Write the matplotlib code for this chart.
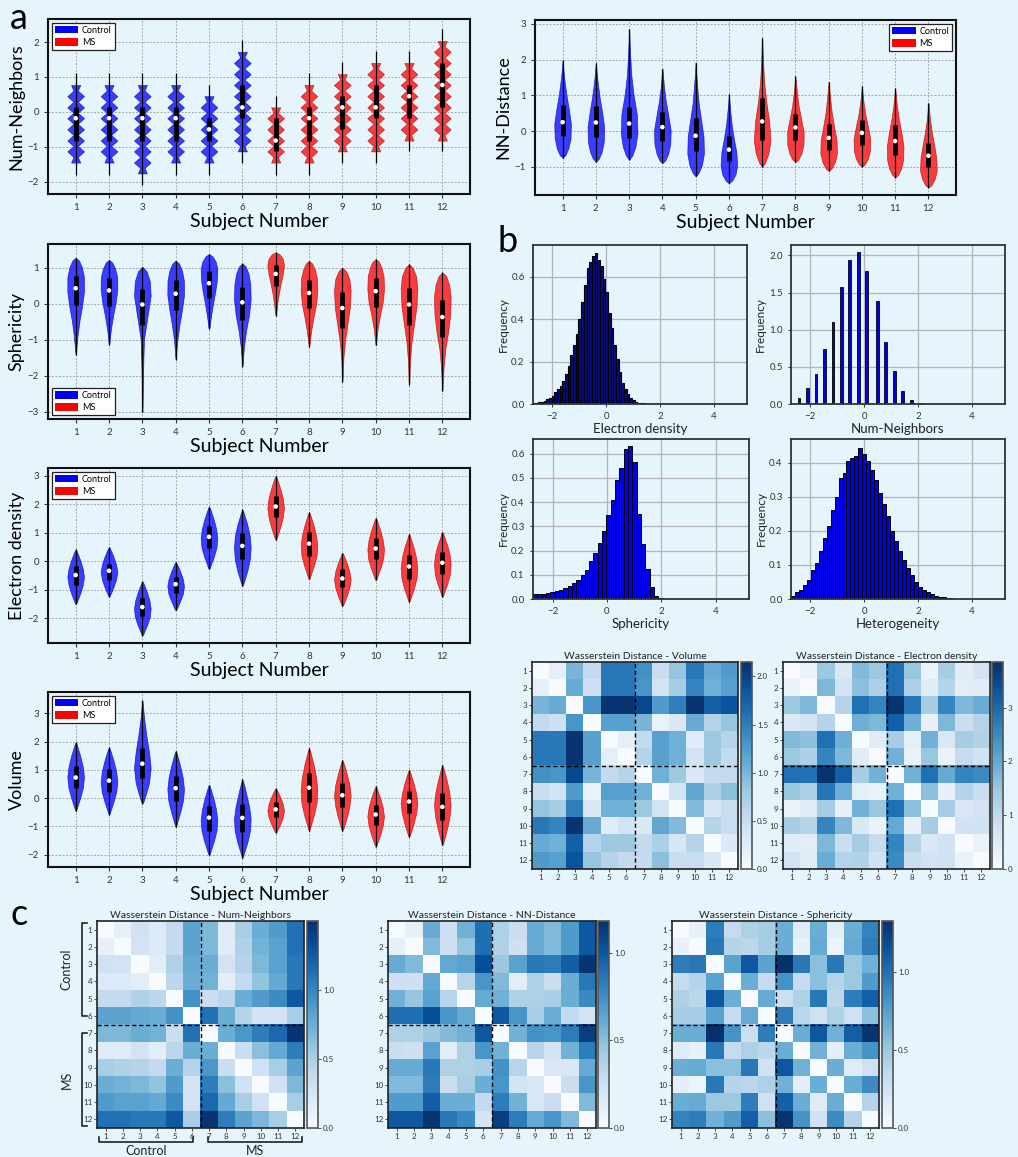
import numpy as np
import matplotlib
matplotlib.use('Agg')
import matplotlib.pyplot as plt
from matplotlib.patches import Patch
from matplotlib.lines import Line2D

plt.rcParams['font.family'] = ['Lato', 'DejaVu Sans']
BG = '#e6f4fb'
W, H = 1018, 1157

subjects = np.arange(1, 13)
is_ms = [False] * 6 + [True] * 6

# ---------------- violin data ----------------
# Num-Neighbors (discrete values)
nn_levels = [-1.76, -1.45, -1.13, -0.82, -0.50, -0.18, 0.13, 0.45, 0.77, 1.08, 1.40, 1.72, 2.03]
nn_min = [-1.45, -1.45, -1.76, -1.45, -1.45, -1.13, -1.45, -1.45, -1.13, -1.13, -0.82, -0.82]
nn_max = [0.77, 0.77, 0.77, 0.77, 0.45, 1.72, 0.13, 0.77, 1.08, 1.40, 1.40, 2.03]
nn_med = [-0.18, -0.18, -0.18, -0.18, -0.50, 0.13, -0.82, -0.18, 0.13, 0.13, 0.45, 0.77]
nn_q1 = [-0.82, -0.82, -0.82, -0.82, -0.82, -0.18, -1.13, -0.82, -0.50, -0.18, -0.18, 0.13]
nn_q3 = [0.13, 0.13, 0.13, 0.13, -0.18, 0.77, -0.18, 0.13, 0.45, 0.77, 0.77, 1.40]
nn_wlo = [-1.8, -1.8, -2.1, -1.8, -1.8, -1.47, -1.8, -1.8, -1.47, -1.47, -1.13, -1.13]
nn_whi = [1.1, 1.1, 1.1, 1.1, 0.77, 2.07, 0.45, 1.1, 1.42, 1.75, 1.75, 2.38]

# profile sample fractions along each violin (min -> max)
F = np.array([0, .03, .1, .2, .35, .5, .65, .8, .9, .97, 1.0])

# NN-Distance
nd_min = [-0.75, -0.86, -0.80, -0.90, -1.27, -1.46, -1.00, -0.87, -1.12, -1.00, -1.30, -1.58]
nd_max = [1.98, 1.92, 2.85, 1.75, 1.92, 1.03, 2.62, 1.53, 1.38, 1.25, 1.20, 0.78]
nd_med = [0.25, 0.24, 0.21, 0.11, -0.13, -0.52, 0.27, 0.10, -0.19, -0.05, -0.28, -0.69]
nd_q1 = [-0.13, -0.17, -0.18, -0.27, -0.57, -0.85, -0.25, -0.26, -0.53, -0.40, -0.67, -1.00]
nd_q3 = [0.72, 0.70, 0.68, 0.53, 0.36, -0.14, 0.92, 0.49, 0.20, 0.32, 0.17, -0.32]
nd_prof = [
    [0, .35, .7, .95, 1, .75, .45, .22, .1, .04, 0],
    [0, .35, .7, .95, 1, .75, .45, .22, .1, .04, 0],
    [0, .35, .72, .95, .88, .5, .25, .12, .06, .03, 0],
    [0, .35, .7, .95, 1, .72, .42, .2, .1, .04, 0],
    [0, .35, .75, 1, .95, .65, .35, .18, .08, .03, 0],
    [0, .4, .8, 1, .9, .6, .35, .18, .08, .03, 0],
    [0, .35, .75, 1, .85, .5, .25, .12, .06, .03, 0],
    [0, .35, .72, .97, 1, .7, .4, .2, .1, .04, 0],
    [0, .35, .75, 1, .95, .65, .38, .2, .1, .04, 0],
    [0, .35, .72, .97, 1, .72, .42, .2, .1, .04, 0],
    [0, .35, .72, .97, 1, .75, .45, .22, .1, .04, 0],
    [0, .38, .75, 1, .95, .7, .42, .2, .1, .04, 0],
]

# Sphericity
sp_min = [-1.41, -1.15, -3.00, -1.55, -0.70, -1.75, -0.33, -1.20, -2.17, -1.15, -2.25, -2.42]
sp_max = [1.28, 1.22, 1.03, 1.20, 1.38, 1.12, 1.43, 1.19, 1.00, 1.24, 1.10, 0.87]
sp_med = [0.43, 0.37, -0.02, 0.28, 0.57, 0.04, 0.83, 0.30, -0.12, 0.35, -0.02, -0.37]
sp_q1 = [-0.03, -0.05, -0.58, -0.17, 0.17, -0.46, 0.50, -0.13, -0.68, -0.08, -0.60, -0.93]
sp_q3 = [0.78, 0.72, 0.41, 0.66, 0.91, 0.47, 1.08, 0.66, 0.33, 0.72, 0.44, 0.10]
sp_prof = [
    [0, .06, .12, .23, .46, .77, 1, 1, .75, .4, 0],
    [0, .06, .12, .25, .5, .8, 1, .98, .72, .38, 0],
    [0, .03, .05, .07, .12, .2, .6, 1, .9, .5, 0],
    [0, .05, .1, .2, .45, .75, 1, .98, .75, .4, 0],
    [0, .08, .15, .28, .5, .75, .95, 1, .8, .42, 0],
    [0, .05, .1, .2, .45, .8, 1, .95, .75, .4, 0],
    [0, .06, .12, .2, .38, .6, .85, 1, .85, .45, 0],
    [0, .06, .14, .28, .55, .85, 1, .95, .7, .38, 0],
    [0, .04, .07, .12, .3, .6, .9, 1, .85, .45, 0],
    [0, .06, .12, .25, .52, .85, 1, .95, .7, .38, 0],
    [0, .04, .07, .12, .3, .6, .9, 1, .85, .45, 0],
    [0, .04, .08, .15, .35, .7, .95, 1, .8, .45, 0],
]

# Electron density
ed_min = [-1.50, -1.24, -2.60, -1.72, -0.28, -0.87, 0.75, -0.63, -1.57, -0.67, -1.43, -1.25]
ed_max = [0.42, 0.50, -0.70, -0.02, 1.92, 1.82, 3.00, 1.73, 0.30, 1.52, 0.97, 1.03]
ed_med = [-0.48, -0.33, -1.60, -0.80, 0.86, 0.54, 1.92, 0.62, -0.60, 0.45, -0.18, -0.05]
ed_q1 = [-0.82, -0.65, -1.90, -1.10, 0.47, 0.07, 1.55, 0.20, -0.90, 0.07, -0.62, -0.46]
ed_q3 = [-0.18, -0.10, -1.30, -0.55, 1.23, 1.00, 2.28, 1.02, -0.28, 0.83, 0.22, 0.32]
ed_prof = [
    [0, .12, .3, .55, .85, 1, .85, .55, .3, .12, 0],
    [0, .12, .3, .55, .85, 1, .85, .55, .3, .12, 0],
    [0, .12, .3, .58, .9, 1, .85, .55, .3, .12, 0],
    [0, .12, .3, .55, .88, 1, .85, .55, .3, .12, 0],
    [0, .12, .3, .58, .9, 1, .85, .55, .3, .12, 0],
    [0, .12, .32, .6, .9, 1, .9, .6, .32, .12, 0],
    [0, .12, .3, .55, .85, 1, .85, .55, .3, .12, 0],
    [0, .12, .3, .58, .9, 1, .85, .55, .3, .12, 0],
    [0, .12, .3, .55, .85, 1, .85, .55, .3, .12, 0],
    [0, .12, .3, .58, .9, 1, .85, .55, .3, .12, 0],
    [0, .12, .3, .6, .9, 1, .85, .55, .28, .1, 0],
    [0, .12, .3, .58, .9, 1, .88, .58, .3, .12, 0],
]

# Volume
vo_min = [-0.47, -0.60, -0.20, -1.03, -2.03, -2.13, -1.23, -1.18, -1.17, -1.72, -1.38, -1.67]
vo_max = [1.98, 1.80, 3.47, 1.67, 0.47, 0.67, 0.35, 1.78, 1.35, 0.42, 1.00, 1.17]
vo_med = [0.73, 0.62, 1.22, 0.35, -0.69, -0.70, -0.40, 0.37, 0.10, -0.58, -0.12, -0.31]
vo_q1 = [0.35, 0.20, 0.72, -0.10, -1.15, -1.20, -0.68, -0.13, -0.32, -0.95, -0.52, -0.78]
vo_q3 = [1.13, 1.02, 1.77, 0.80, -0.27, -0.22, -0.13, 0.88, 0.52, -0.25, 0.25, 0.18]
vo_prof = [
    [0, .1, .28, .55, .88, 1, .85, .55, .3, .12, 0],
    [0, .1, .28, .55, .88, 1, .85, .55, .3, .12, 0],
    [0, .18, .45, .8, 1, .8, .5, .25, .12, .05, 0],
    [0, .1, .28, .55, .88, 1, .85, .55, .3, .12, 0],
    [0, .12, .3, .58, .9, 1, .85, .55, .3, .12, 0],
    [0, .1, .3, .6, .92, 1, .82, .5, .28, .1, 0],
    [0, .12, .3, .55, .85, 1, .85, .55, .3, .12, 0],
    [0, .1, .3, .6, .92, 1, .85, .55, .3, .12, 0],
    [0, .12, .3, .55, .85, 1, .85, .55, .3, .12, 0],
    [0, .12, .3, .55, .85, 1, .85, .55, .3, .12, 0],
    [0, .12, .3, .55, .85, 1, .85, .55, .3, .12, 0],
    [0, .12, .3, .55, .85, 1, .85, .55, .3, .12, 0],
]

# ---------------- histogram data ----------------
hist_range = (-2.72, 5.22)
h_ed = [0.003, 0.005, 0.008, 0.011, 0.015, 0.022, 0.03, 0.04, 0.055, 0.07, 0.085, 0.11, 0.14,
        0.18, 0.23, 0.28, 0.33, 0.40, 0.48, 0.56, 0.64, 0.67, 0.70, 0.71, 0.68, 0.65, 0.59,
        0.53, 0.43, 0.36, 0.28, 0.21, 0.15, 0.10, 0.07, 0.045, 0.03, 0.018, 0.01, 0.007,
        0.004, 0.003, 0.002, 0.001, 0.001, 0.001]
h_nn_x = [-2.42, -2.10, -1.79, -1.47, -1.16, -0.85, -0.54, -0.22, 0.09, 0.48, 0.79, 1.11, 1.42, 1.74, 2.05]
h_nn = [0.085, 0.21, 0.41, 0.74, 1.11, 1.57, 1.94, 2.04, 1.79, 1.39, 0.84, 0.45, 0.17, 0.06, 0.015]
h_sp = [0.019, 0.02, 0.022, 0.026, 0.03, 0.034, 0.039, 0.045, 0.055, 0.065, 0.08, 0.10, 0.12,
        0.155, 0.19, 0.23, 0.28, 0.345, 0.41, 0.49, 0.54, 0.62, 0.63, 0.565, 0.35, 0.225,
        0.125, 0.05, 0.011, 0.003, 0.001]
h_he = [0.008, 0.02, 0.025, 0.04, 0.055, 0.085, 0.105, 0.14, 0.18, 0.215, 0.26, 0.30, 0.355,
        0.37, 0.405, 0.415, 0.42, 0.445, 0.425, 0.405, 0.38, 0.35, 0.31, 0.28, 0.245, 0.20,
        0.17, 0.14, 0.115, 0.09, 0.07, 0.05, 0.035, 0.025, 0.02, 0.015, 0.01, 0.007, 0.005,
        0.003, 0.002, 0.001]
nbins_ed, nbins_sp, nbins_he = 80, 50, 54

# ---------------- Wasserstein matrices (upper triangles) ----------------
wd_vol = [
    [0.2, 1.0, 0.55, 1.55, 1.55, 1.35, 0.5, 0.85, 1.55, 1.1, 1.25],
    [1.1, 0.45, 1.55, 1.55, 1.3, 0.4, 0.75, 1.45, 1.05, 1.2],
    [1.3, 2.1, 2.1, 1.95, 1.25, 1.5, 2.1, 1.75, 1.85],
    [1.2, 1.2, 1.0, 0.15, 0.3, 1.1, 0.65, 0.85],
    [0.2, 0.55, 1.2, 1.05, 0.25, 0.8, 0.65],
    [0.65, 1.2, 1.05, 0.4, 0.8, 0.55],
    [1.05, 0.8, 0.3, 0.55, 0.55],
    [0.4, 1.15, 0.7, 0.9],
    [0.95, 0.35, 0.5],
    [0.65, 0.5],
    [0.3]]
wd_ed = [
    [0.25, 1.45, 0.55, 1.7, 1.45, 2.9, 1.5, 0.25, 1.35, 0.45, 0.7],
    [1.75, 0.7, 1.6, 1.25, 2.9, 1.25, 0.45, 1.15, 0.4, 0.45],
    [1.15, 2.9, 2.6, 3.8, 2.8, 1.35, 2.6, 1.75, 1.95],
    [1.9, 1.75, 3.15, 1.9, 0.3, 1.75, 0.85, 1.15],
    [0.45, 1.35, 0.35, 1.85, 0.55, 1.35, 1.2],
    [1.85, 0.25, 1.5, 0.25, 0.95, 0.75],
    [1.85, 2.9, 2.0, 2.6, 2.5],
    [1.6, 0.3, 1.15, 0.85],
    [1.35, 0.55, 0.7],
    [0.75, 0.75],
    [0.25]]
wd_nn = [
    [0.12, 0.3, 0.2, 0.38, 0.82, 0.68, 0.18, 0.52, 0.75, 0.87, 1.12],
    [0.27, 0.2, 0.38, 0.82, 0.68, 0.18, 0.48, 0.72, 0.83, 1.12],
    [0.15, 0.48, 0.78, 0.75, 0.27, 0.45, 0.68, 0.83, 1.08],
    [0.42, 0.75, 0.72, 0.15, 0.38, 0.6, 0.78, 1.08],
    [0.93, 0.33, 0.42, 0.75, 0.87, 0.97, 1.27],
    [1.12, 0.75, 0.45, 0.27, 0.27, 0.52],
    [0.75, 0.9, 1.05, 1.17, 1.47],
    [0.33, 0.63, 0.78, 1.05],
    [0.3, 0.52, 0.82],
    [0.3, 0.68],
    [0.52]]
wd_nd = [
    [0.1, 0.6, 0.24, 0.57, 0.89, 0.38, 0.26, 0.6, 0.53, 0.69, 1.0],
    [0.53, 0.24, 0.47, 0.89, 0.38, 0.24, 0.6, 0.53, 0.69, 1.0],
    [0.62, 0.65, 1.04, 0.45, 0.65, 0.85, 0.83, 0.97, 1.16],
    [0.35, 0.71, 0.53, 0.12, 0.38, 0.26, 0.59, 0.85],
    [0.61, 0.57, 0.38, 0.38, 0.41, 0.59, 0.77],
    [1.0, 0.71, 0.41, 0.59, 0.3, 0.21],
    [0.57, 0.73, 0.71, 0.83, 1.12],
    [0.35, 0.21, 0.57, 0.83],
    [0.17, 0.18, 0.61],
    [0.26, 0.71],
    [0.53]]
wd_sp = [
    [0.1, 0.93, 0.33, 0.43, 0.47, 0.67, 0.16, 0.67, 0.13, 0.67, 0.9],
    [0.96, 0.4, 0.37, 0.47, 0.67, 0.1, 0.69, 0.07, 0.69, 0.93],
    [0.73, 1.13, 0.73, 1.33, 0.96, 0.56, 0.96, 0.5, 0.64],
    [0.67, 0.33, 0.82, 0.33, 0.56, 0.4, 0.5, 0.77],
    [0.69, 0.29, 0.43, 0.96, 0.37, 0.93, 1.09],
    [0.93, 0.37, 0.27, 0.43, 0.27, 0.56],
    [0.67, 1.13, 0.64, 1.09, 1.3],
    [0.64, 0.13, 0.67, 0.82],
    [0.67, 0.16, 0.27],
    [0.67, 0.86],
    [0.4]]


def full_matrix(upper):
    m = np.zeros((12, 12))
    for i, row in enumerate(upper):
        for j, v in enumerate(row):
            m[i, i + 1 + j] = v
            m[i + 1 + j, i] = v
    return m


# ---------------- figure ----------------
fig = plt.figure(figsize=(W / 100, H / 100), dpi=100)
fig.patch.set_facecolor(BG)


def add_ax(l, t, r, b):
    return fig.add_axes([l / W, 1 - b / H, (r - l) / W, (b - t) / H])


TICKC = '#333333'
BLUE_F, BLUE_E = (0.0, 0.0, 1.0), (0.0, 0.0, 0.7)
RED_F, RED_E = (1.0, 0.0, 0.0), (0.7, 0.0, 0.0)


def style_violin_ax(ax, ylabel, ylim, yticks, legend_loc):
    ax.set_facecolor(BG)
    ax.set_xlim(0.17, 12.83)
    ax.set_ylim(*ylim)
    ax.set_xticks(subjects)
    ax.set_yticks(yticks)
    ax.tick_params(labelsize=7, colors=TICKC, length=3, width=0.8)
    ax.set_axisbelow(True)
    ax.grid(True, color='#a8a8a8', ls=(0, (2, 1.6)), lw=0.7)
    for s in ax.spines.values():
        s.set_linewidth(1.5)
        s.set_color('#111111')
    ax.set_xlabel('Subject Number', fontsize=14, labelpad=1)
    ax.set_ylabel(ylabel, fontsize=13, labelpad=2)
    handles = [Patch(facecolor='blue', edgecolor='none', label='Control'),
               Patch(facecolor='red', edgecolor='none', label='MS')]
    leg = ax.legend(handles=handles, loc=legend_loc, fontsize=6.5, frameon=True, fancybox=False,
                    framealpha=1, edgecolor='#222222', handlelength=2.6, handleheight=0.9,
                    borderpad=0.35, labelspacing=0.35, handletextpad=0.4, borderaxespad=0.4)
    leg.get_frame().set_linewidth(0.9)


def draw_body(ax, pos, ys, ws, ms):
    ys = np.asarray(ys, float)
    ws = np.asarray(ws, float)
    stats = [{'coords': ys, 'vals': ws, 'mean': 0.0, 'median': 0.0,
              'min': ys.min(), 'max': ys.max()}]
    parts = ax.violin(stats, positions=[pos], widths=0.5, showmeans=False,
                      showextrema=False, showmedians=False)
    for b in parts['bodies']:
        b.set_facecolor(RED_F if ms else BLUE_F)
        b.set_edgecolor(RED_E if ms else BLUE_E)
        b.set_alpha(0.75)
        b.set_linewidth(0.5)
        b.set_zorder(2)


def draw_inner(ax, pos, wlo, whi, q1, q3, med):
    ax.vlines(pos, wlo, whi, color='k', lw=0.9, zorder=3)
    ax.vlines(pos, q1, q3, color='k', lw=3.4, zorder=3)
    ax.scatter([pos], [med], s=11, color='white', zorder=4, edgecolors='none')


# Panel a1: Num-Neighbors
ax1 = add_ax(48, 19, 470, 194)
for i, pos in enumerate(subjects):
    lv = [v for v in nn_levels if nn_min[i] - 1e-6 <= v <= nn_max[i] + 1e-6]
    ys, ws = [], []
    for k, v in enumerate(lv):
        ws_peak = 0.55 if (k == 0 or k == len(lv) - 1) else 1.0
        ys.append(v)
        ws.append(ws_peak)
        if k < len(lv) - 1:
            ys.append((v + lv[k + 1]) / 2)
            ws.append(0.26)
    draw_body(ax1, pos, ys, ws, is_ms[i])
    draw_inner(ax1, pos, nn_wlo[i], nn_whi[i], nn_q1[i], nn_q3[i], nn_med[i])
style_violin_ax(ax1, 'Num-Neighbors', (-2.35, 2.66), [-2, -1, 0, 1, 2], 'upper left')


def smooth_panel(ax, mins, maxs, meds, q1s, q3s, profs):
    for i, pos in enumerate(subjects):
        ys = mins[i] + F * (maxs[i] - mins[i])
        draw_body(ax, pos, ys, profs[i], is_ms[i])
        draw_inner(ax, pos, mins[i], maxs[i], q1s[i], q3s[i], meds[i])


ax2 = add_ax(535, 20, 956, 195)
smooth_panel(ax2, nd_min, nd_max, nd_med, nd_q1, nd_q3, nd_prof)
style_violin_ax(ax2, 'NN-Distance', (-1.79, 3.11), [-1, 0, 1, 2, 3], 'upper right')

ax3 = add_ax(48, 244, 470, 419)
smooth_panel(ax3, sp_min, sp_max, sp_med, sp_q1, sp_q3, sp_prof)
style_violin_ax(ax3, 'Sphericity', (-3.2, 1.66), [-3, -2, -1, 0, 1], 'lower left')

ax4 = add_ax(48, 468, 470, 643)
smooth_panel(ax4, ed_min, ed_max, ed_med, ed_q1, ed_q3, ed_prof)
style_violin_ax(ax4, 'Electron density', (-2.86, 3.27), [-2, -1, 0, 1, 2, 3], 'upper left')

ax5 = add_ax(48, 692, 470, 867)
smooth_panel(ax5, vo_min, vo_max, vo_med, vo_q1, vo_q3, vo_prof)
style_violin_ax(ax5, 'Volume', (-2.44, 3.76), [-2, -1, 0, 1, 2, 3], 'upper left')


# ---------------- histograms ----------------
def style_hist(ax, xlabel, ylim, yticks, yfmt):
    ax.set_facecolor(BG)
    ax.set_xlim(*hist_range)
    ax.set_ylim(*ylim)
    ax.set_xticks([-2, 0, 2, 4])
    ax.set_yticks(yticks)
    ax.set_yticklabels([yfmt.format(v) for v in yticks])
    ax.set_axisbelow(True)
    ax.grid(True, color='#b4b4b4', lw=0.9)
    ax.tick_params(labelsize=7, colors=TICKC, length=2.5, width=0.7)
    for s in ax.spines.values():
        s.set_linewidth(1.3)
        s.set_color('#333333')
    ax.set_xlabel(xlabel, fontsize=9.5, labelpad=1, color='#222222')
    ax.set_ylabel('Frequency', fontsize=8.5, labelpad=2, color='#222222')


def hist_bars(ax, heights, nbins, lw, face='#0000ee'):
    edges = np.linspace(hist_range[0], hist_range[1], nbins + 1)
    h = np.zeros(nbins)
    h[:len(heights)] = heights
    ax.bar(edges[:-1], h, width=np.diff(edges), align='edge', color=face,
           edgecolor='black', linewidth=lw)


hx1 = add_ax(533, 245, 747, 404)
hist_bars(hx1, h_ed, nbins_ed, 0.8, face='#0a0a80')
style_hist(hx1, 'Electron density', (0, 0.75), [0, 0.2, 0.4, 0.6], '{:.1f}')

hx2 = add_ax(791, 245, 1005, 404)
hx2.bar(h_nn_x, h_nn, width=(hist_range[1] - hist_range[0]) / 80, color='#0000ee',
        edgecolor='black', linewidth=0.6)
style_hist(hx2, 'Num-Neighbors', (0, 2.14), [0, 0.5, 1.0, 1.5, 2.0], '{:.1f}')

hx3 = add_ax(533, 439, 749, 599)
hist_bars(hx3, h_sp, nbins_sp, 0.7)
style_hist(hx3, 'Sphericity', (0, 0.66), [0, 0.1, 0.2, 0.3, 0.4, 0.5, 0.6], '{:.1f}')

hx4 = add_ax(791, 439, 1005, 599)
hist_bars(hx4, h_he, nbins_he, 0.7)
style_hist(hx4, 'Heterogeneity', (0, 0.47), [0, 0.1, 0.2, 0.3, 0.4], '{:.1f}')


# ---------------- heatmaps ----------------
def heatmap(box, cbox, upper, vmax, title, cticks, cfmt):
    ax = add_ax(*box)
    m = full_matrix(upper)
    im = ax.imshow(m, cmap='Blues', vmin=0, vmax=vmax, aspect='auto', interpolation='nearest')
    ax.axhline(5.5, color='k', ls=(0, (3, 2)), lw=1.0)
    ax.axvline(5.5, color='k', ls=(0, (3, 2)), lw=1.0)
    ax.set_xticks(range(12))
    ax.set_yticks(range(12))
    ax.set_xticklabels([str(s) for s in subjects])
    ax.set_yticklabels([str(s) for s in subjects])
    ax.tick_params(labelsize=5.8, colors=TICKC, length=2, width=0.6, pad=1.5)
    for s in ax.spines.values():
        s.set_linewidth(1.2)
        s.set_color('#222222')
    ax.set_title(title, fontsize=7.5, pad=2, color='#222222')
    cax = add_ax(*cbox)
    cb = fig.colorbar(im, cax=cax, ticks=cticks)
    cb.ax.set_yticklabels([cfmt.format(v) for v in cticks])
    cb.ax.tick_params(labelsize=5.8, colors=TICKC, length=2, width=0.6, pad=1.5)
    cb.outline.set_linewidth(1.2)
    cb.outline.set_edgecolor('#555555')
    return ax


heatmap((532, 662, 738, 869), (741, 662, 752, 869), wd_vol, 2.15,
        'Wasserstein Distance - Volume', [0, 0.5, 1.0, 1.5, 2.0], '{:.1f}')
heatmap((783, 662, 990, 869), (992, 662, 1003, 869), wd_ed, 3.85,
        'Wasserstein Distance - Electron density', [0, 1, 2, 3], '{:d}')
axc1 = heatmap((97, 921, 304, 1128), (307, 921, 318, 1128), wd_nn, 1.5,
               'Wasserstein Distance - Num-Neighbors', [0, 0.5, 1.0], '{:.1f}')
heatmap((388, 921, 596, 1128), (598, 921, 609, 1128), wd_nd, 1.18,
        'Wasserstein Distance - NN-Distance', [0, 0.5, 1.0], '{:.1f}')
heatmap((672, 921, 879, 1128), (882, 921, 893, 1128), wd_sp, 1.33,
        'Wasserstein Distance - Sphericity', [0, 0.5, 1.0], '{:.1f}')

# group brackets on panel c
trans_y = axc1.get_yaxis_transform()   # x in axes, y in data
trans_x = axc1.get_xaxis_transform()   # x in data, y in axes
bx, tick = -0.072, 0.025
for (y0, y1, lab) in [(-0.4, 5.0, 'Control'), (6.0, 11.4, 'MS')]:
    axc1.add_line(Line2D([bx + tick, bx, bx, bx + tick], [y0, y0, y1, y1], transform=trans_y,
                         color='#222222', lw=1.2, clip_on=False))
    axc1.text(bx - 0.045, (y0 + y1) / 2, lab, transform=trans_y, rotation=90,
              ha='right', va='center', fontsize=9, color='#222222')
by = -0.068
for (x0, x1, lab) in [(-0.38, 5.07, 'Control'), (5.93, 11.38, 'MS')]:
    axc1.add_line(Line2D([x0, x0, x1, x1], [by + tick, by, by, by + tick], transform=trans_x,
                         color='#222222', lw=1.2, clip_on=False))
    axc1.text((x0 + x1) / 2, by - 0.015, lab, transform=trans_x, ha='center', va='top',
              fontsize=9, color='#222222')

# panel letters
fig.text(10 / W, 1 - 2 / H, 'a', fontsize=26, va='top', ha='left')
fig.text(497 / W, 1 - 225 / H, 'b', fontsize=26, va='top', ha='left')
fig.text(10 / W, 1 - 898 / H, 'c', fontsize=26, va='top', ha='left')

fig.savefig('out.png', dpi=100, facecolor=BG)
